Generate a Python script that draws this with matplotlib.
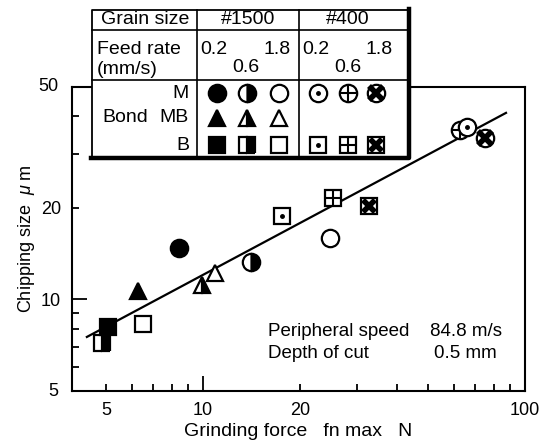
import numpy as np
import matplotlib
matplotlib.use("Agg")
import matplotlib.pyplot as plt
from matplotlib.ticker import FixedLocator, FuncFormatter

plt.rcParams["font.family"] = "Liberation Sans"
plt.rcParams["mathtext.fontset"] = "custom"
plt.rcParams["mathtext.it"] = "Liberation Sans:italic"
plt.rcParams["mathtext.rm"] = "Liberation Sans"

# grinding force (N) and chipping size (um), feed rates 0.2 / 0.6 / 1.8 mm/s
m1500_x = [8.4, 14.1, 24.8]
m1500_y = [14.8, 13.3, 15.9]
mb1500_x = [6.3, 9.9, 10.9]
mb1500_y = [10.7, 11.2, 12.2]
b1500_x = [5.07, 4.86, 6.5]
b1500_y = [8.1, 7.2, 8.3]
m400_x = [66.1, 62.8, 75.1]
m400_y = [36.9, 36.1, 34.0]
b400_x = [17.6, 25.3, 32.8]
b400_y = [18.8, 21.6, 20.3]

fit_x = [4.36, 87.3]
fit_y = [7.53, 41.1]

feed_rates = ["0.2", "0.6", "1.8"]
bonds = ["M", "MB", "B"]
grains = ["#1500", "#400"]

x_labels = {5: "5", 10: "10", 20: "20", 100: "100"}
y_labels = {5: "5", 10: "10", 20: "20", 50: "50"}

MS = 12.5
MEW = 1.6


def draw_marker(ax, x, y, shape, kind, z=5):
    ms = MS if shape != "s" else MS - 1
    if shape == "^":
        ms = MS - 0.5
    base = dict(marker=shape, ms=ms, mew=MEW, mec="black", ls="none", zorder=z)
    if kind == "filled":
        ax.plot(x, y, mfc="black", **base)
    elif kind == "half":
        ax.plot(x, y, mfc="black", mfcalt="white", fillstyle="right", **base)
    else:
        ax.plot(x, y, mfc="white", **base)
    if kind == "dot":
        ax.plot(x, y, marker="o", ms=2.5, mfc="black", mec="black", ls="none", zorder=z + 0.1)
    elif kind == "plus":
        ax.plot(x, y, marker="+", ms=ms - 1, mew=1.5, color="black", ls="none", zorder=z + 0.1)
    elif kind == "cross":
        ax.plot(x, y, marker="x", ms=ms * 0.75, mew=4, color="black", ls="none", zorder=z + 0.1)


kinds_1500 = ["filled", "half", "open"]
kinds_400 = ["dot", "plus", "cross"]

fig = plt.figure(figsize=(5.47, 4.47), dpi=100)
ax = fig.add_axes([72 / 547, 56 / 447, 453 / 547, 304 / 447])
ax.set_xscale("log")
ax.set_yscale("log")
ax.set_xlim(3.92, 100)
ax.set_ylim(5, 50)

ax.plot(fit_x, fit_y, color="black", lw=1.6, zorder=3)

# (x, y, shape, kinds, drawing order per point)
series = [
    (m1500_x, m1500_y, "o", kinds_1500, [5, 6, 7]),
    (mb1500_x, mb1500_y, "^", kinds_1500, [5, 6, 7]),
    (b1500_x, b1500_y, "s", kinds_1500, [6, 5, 7]),
    (m400_x, m400_y, "o", kinds_400, [7, 5, 6]),
    (b400_x, b400_y, "s", kinds_400, [5, 6, 7]),
]
for xs, ys, shape, kinds, zs in series:
    for xv, yv, k, z in zip(xs, ys, kinds, zs):
        draw_marker(ax, [xv], [yv], shape, k, z=z)

# axis ticks: long ticks at decades only
ax.xaxis.set_major_locator(FixedLocator([10, 100]))
ax.xaxis.set_minor_locator(FixedLocator([5, 6, 7, 8, 9, 20, 30, 40, 50, 60, 70, 80, 90]))
ax.yaxis.set_major_locator(FixedLocator([10]))
ax.yaxis.set_minor_locator(FixedLocator([6, 7, 8, 9, 20, 30, 40]))
fx = FuncFormatter(lambda v, p: x_labels.get(int(round(v)), ""))
fy = FuncFormatter(lambda v, p: y_labels.get(int(round(v)), ""))
ax.xaxis.set_major_formatter(fx)
ax.xaxis.set_minor_formatter(fx)
ax.yaxis.set_major_formatter(fy)
ax.yaxis.set_minor_formatter(fy)
ax.tick_params(which="both", direction="in", labelsize=13, width=1.3, top=False, right=False)
ax.tick_params(which="major", length=11, pad=8)
ax.tick_params(which="minor", length=5, pad=8)
for s in ax.spines.values():
    s.set_linewidth(1.5)

# y=5 and y=50 labels sit at the axis ends
for v in (5, 50):
    ax.text(-0.03, v, y_labels[v], transform=ax.get_yaxis_transform(),
            ha="right", va="center", fontsize=13)

ax.set_xlabel("Grinding force   fn max   N", fontsize=14, labelpad=3)
ax.set_ylabel("Chipping size  $\\mu$ m", fontsize=13, labelpad=3)

ax.text(0.433, 0.197, "Peripheral speed", transform=ax.transAxes, fontsize=13.5, va="center")
ax.text(0.79, 0.197, "84.8 m/s", transform=ax.transAxes, fontsize=13.5, va="center")
ax.text(0.433, 0.122, "Depth of cut", transform=ax.transAxes, fontsize=13.5, va="center")
ax.text(0.80, 0.122, "0.5 mm", transform=ax.transAxes, fontsize=13.5, va="center")

# legend table drawn in pixel coordinates on top of the plot
tb = fig.add_axes([0, 0, 1, 1], zorder=10)
tb.set_xlim(0, 547)
tb.set_ylim(447, 0)
tb.axis("off")
left, right, top, bottom = 92, 409, 10, 158
col1, col2 = 197, 299
row1, row2 = 30, 80
tb.fill([left, right, right, left], [top, top, bottom, bottom], color="white", zorder=1)
tb.plot([left, left, right], [bottom, top, top], color="black", lw=1.3, zorder=2)
tb.plot([left - 1, right, right], [bottom, bottom, top - 1], color="black", lw=3.2, zorder=2)
tb.plot([left, right], [row1, row1], color="black", lw=1.2, zorder=2)
tb.plot([left, right], [row2, row2], color="black", lw=1.2, zorder=2)
tb.plot([col1, col1], [top, bottom], color="black", lw=1.2, zorder=2)
tb.plot([col2, col2], [top, bottom], color="black", lw=1.2, zorder=2)

fs = 14
tb.text(145, 20, "Grain size", ha="center", va="center", fontsize=fs, zorder=3)
tb.text(248, 20, grains[0], ha="center", va="center", fontsize=fs, zorder=3)
tb.text(348, 20, grains[1], ha="center", va="center", fontsize=fs, zorder=3)
tb.text(97, 50, "Feed rate", ha="left", va="center", fontsize=fs, zorder=3)
tb.text(97, 69, "(mm/s)", ha="left", va="center", fontsize=fs, zorder=3)
for c0 in (col1, col2):
    tb.text(c0 + 3, 50, feed_rates[0], ha="left", va="center", fontsize=fs, zorder=3)
    tb.text(c0 + 49, 68, feed_rates[1], ha="center", va="center", fontsize=fs, zorder=3)
    tb.text(c0 + 94, 50, feed_rates[2], ha="right", va="center", fontsize=fs, zorder=3)

row_y = [93, 118, 145]
for b, yy in zip(bonds, row_y):
    tb.text(189, yy, b, ha="right", va="center", fontsize=fs, zorder=3)
tb.text(102, row_y[1], "Bond", ha="left", va="center", fontsize=fs, zorder=3)

cols_1500 = [217, 247, 279]
cols_400 = [318, 348, 376]
for shape, yy in zip(["o", "^", "s"], row_y):
    for cx, k in zip(cols_1500, kinds_1500):
        draw_marker(tb, [cx], [yy], shape, k, z=4)
for shape, yy in zip(["o", "s"], [row_y[0], row_y[2]]):
    for cx, k in zip(cols_400, kinds_400):
        draw_marker(tb, [cx], [yy], shape, k, z=4)

fig.savefig("out.png", dpi=100)
